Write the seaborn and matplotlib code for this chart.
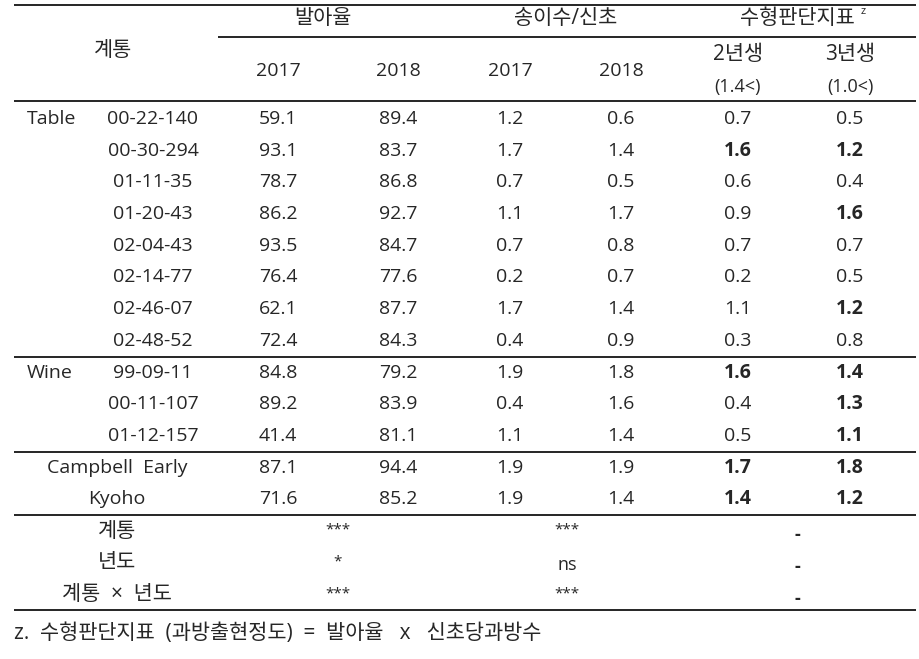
import matplotlib
matplotlib.use("Agg")
import matplotlib.pyplot as plt
import seaborn as sns
import pandas as pd

# table data
groups = ["Table"] * 8 + ["Wine"] * 3 + ["", ""]
strains = ["00-22-140", "00-30-294", "01-11-35", "01-20-43", "02-04-43", "02-14-77",
           "02-46-07", "02-48-52", "99-09-11", "00-11-107", "01-12-157",
           "Campbell  Early", "Kyoho"]
germ_2017 = [59.1, 93.1, 78.7, 86.2, 93.5, 76.4, 62.1, 72.4, 84.8, 89.2, 41.4, 87.1, 71.6]
germ_2018 = [89.4, 83.7, 86.8, 92.7, 84.7, 77.6, 87.7, 84.3, 79.2, 83.9, 81.1, 94.4, 85.2]
clus_2017 = [1.2, 1.7, 0.7, 1.1, 0.7, 0.2, 1.7, 0.4, 1.9, 0.4, 1.1, 1.9, 1.9]
clus_2018 = [0.6, 1.4, 0.5, 1.7, 0.8, 0.7, 1.4, 0.9, 1.8, 1.6, 1.4, 1.9, 1.4]
idx_2yr = [0.7, 1.6, 0.6, 0.9, 0.7, 0.2, 1.1, 0.3, 1.6, 0.4, 0.5, 1.7, 1.4]
idx_3yr = [0.5, 1.2, 0.4, 1.6, 0.7, 0.5, 1.2, 0.8, 1.4, 1.3, 1.1, 1.8, 1.2]
bold_2yr = [0, 1, 0, 0, 0, 0, 0, 0, 1, 0, 0, 1, 1]
bold_3yr = [0, 1, 0, 1, 0, 0, 1, 0, 1, 1, 1, 1, 1]

stat_labels = ["계통", "년도", "계통  ×  년도"]
stat_germ = ["***", "*", "***"]
stat_clus = ["***", "ns", "***"]
stat_idx = ["-", "-", "-"]

df = pd.DataFrame({"group": groups, "strain": strains,
                   "g17": germ_2017, "g18": germ_2018,
                   "c17": clus_2017, "c18": clus_2018,
                   "i2": idx_2yr, "i3": idx_3yr,
                   "b2": bold_2yr, "b3": bold_3yr})

sns.set_theme(style="white")
plt.rcParams["font.family"] = ["Open Sans", "Noto Sans CJK KR", "DejaVu Sans"]

fig = plt.figure(figsize=(9.2, 6.59), dpi=100)
ax = fig.add_axes([0, 0, 1, 1])
ax.set_xlim(0, 920)
ax.set_ylim(659, 0)
ax.axis("off")

fs = 14     # latin / numbers
fk = 15     # korean
col_x = [278, 398, 510, 621, 738, 850]
row_y0, row_dy = 119, 31.7

# header
ax.text(113, 51, "계통", ha="center", va="center", fontsize=fk)
ax.text(323, 19, "발아율", ha="center", va="center", fontsize=fk)
ax.text(566, 19, "송이수/신초", ha="center", va="center", fontsize=fk)
ax.text(797, 19, "수형판단지표", ha="center", va="center", fontsize=fk)
ax.text(861, 12, "z", ha="left", va="center", fontsize=8)
for x, yr in zip(col_x[:4], ["2017", "2018", "2017", "2018"]):
    ax.text(x, 71, yr, ha="center", va="center", fontsize=fs)
ax.text(col_x[4], 54, "2년생", ha="center", va="center", fontsize=fk)
ax.text(col_x[5], 54, "3년생", ha="center", va="center", fontsize=fk)
ax.text(col_x[4], 87, "(1.4<)", ha="center", va="center", fontsize=13)
ax.text(col_x[5], 87, "(1.0<)", ha="center", va="center", fontsize=13)

# body rows
prev_group = None
for i, row in df.iterrows():
    y = row_y0 + i * row_dy
    if row["group"]:
        if row["group"] != prev_group:
            ax.text(27, y, row["group"], ha="left", va="center", fontsize=fs)
        ax.text(153, y, row["strain"], ha="center", va="center", fontsize=fs)
    else:
        ax.text(117, y, row["strain"], ha="center", va="center", fontsize=fs)
    prev_group = row["group"]
    vals = [row["g17"], row["g18"], row["c17"], row["c18"], row["i2"], row["i3"]]
    weights = ["normal"] * 4 + ["bold" if row["b2"] else "normal",
                                "bold" if row["b3"] else "normal"]
    for x, v, w in zip(col_x, vals, weights):
        ax.text(x, y, f"{v:.1f}", ha="center", va="center", fontsize=fs, fontweight=w)

# significance rows
n = len(df)
for k, lab in enumerate(stat_labels):
    y = row_y0 + (n + k) * row_dy
    ax.text(117, y, lab, ha="center", va="center", fontsize=fk)
    ax.text(338, y - 1, stat_germ[k], ha="center", va="center", fontsize=11)
    if stat_clus[k] == "ns":
        ax.text(567, y + 2, stat_clus[k], ha="center", va="center", fontsize=13)
    else:
        ax.text(567, y - 1, stat_clus[k], ha="center", va="center", fontsize=11)
    ax.text(797, y + 4, stat_idx[k], ha="center", va="center", fontsize=13,
            fontweight="bold")

# rules
ax.hlines([5, 101], 14, 916, color="black", lw=1.2)
ax.hlines(37, 218, 916, color="black", lw=1.2)
for after in [7, 10, 12, n + 2]:
    y = row_y0 + (after + 0.5) * row_dy
    ax.hlines(y, 14, 916, color="black", lw=1.2)

# footnote
ax.text(14, 634, "z.  수형판단지표  (과방출현정도)  =  발아율   x   신초당과방수",
        ha="left", va="center", fontsize=fk)

fig.savefig("out.png", dpi=100, facecolor="white")
